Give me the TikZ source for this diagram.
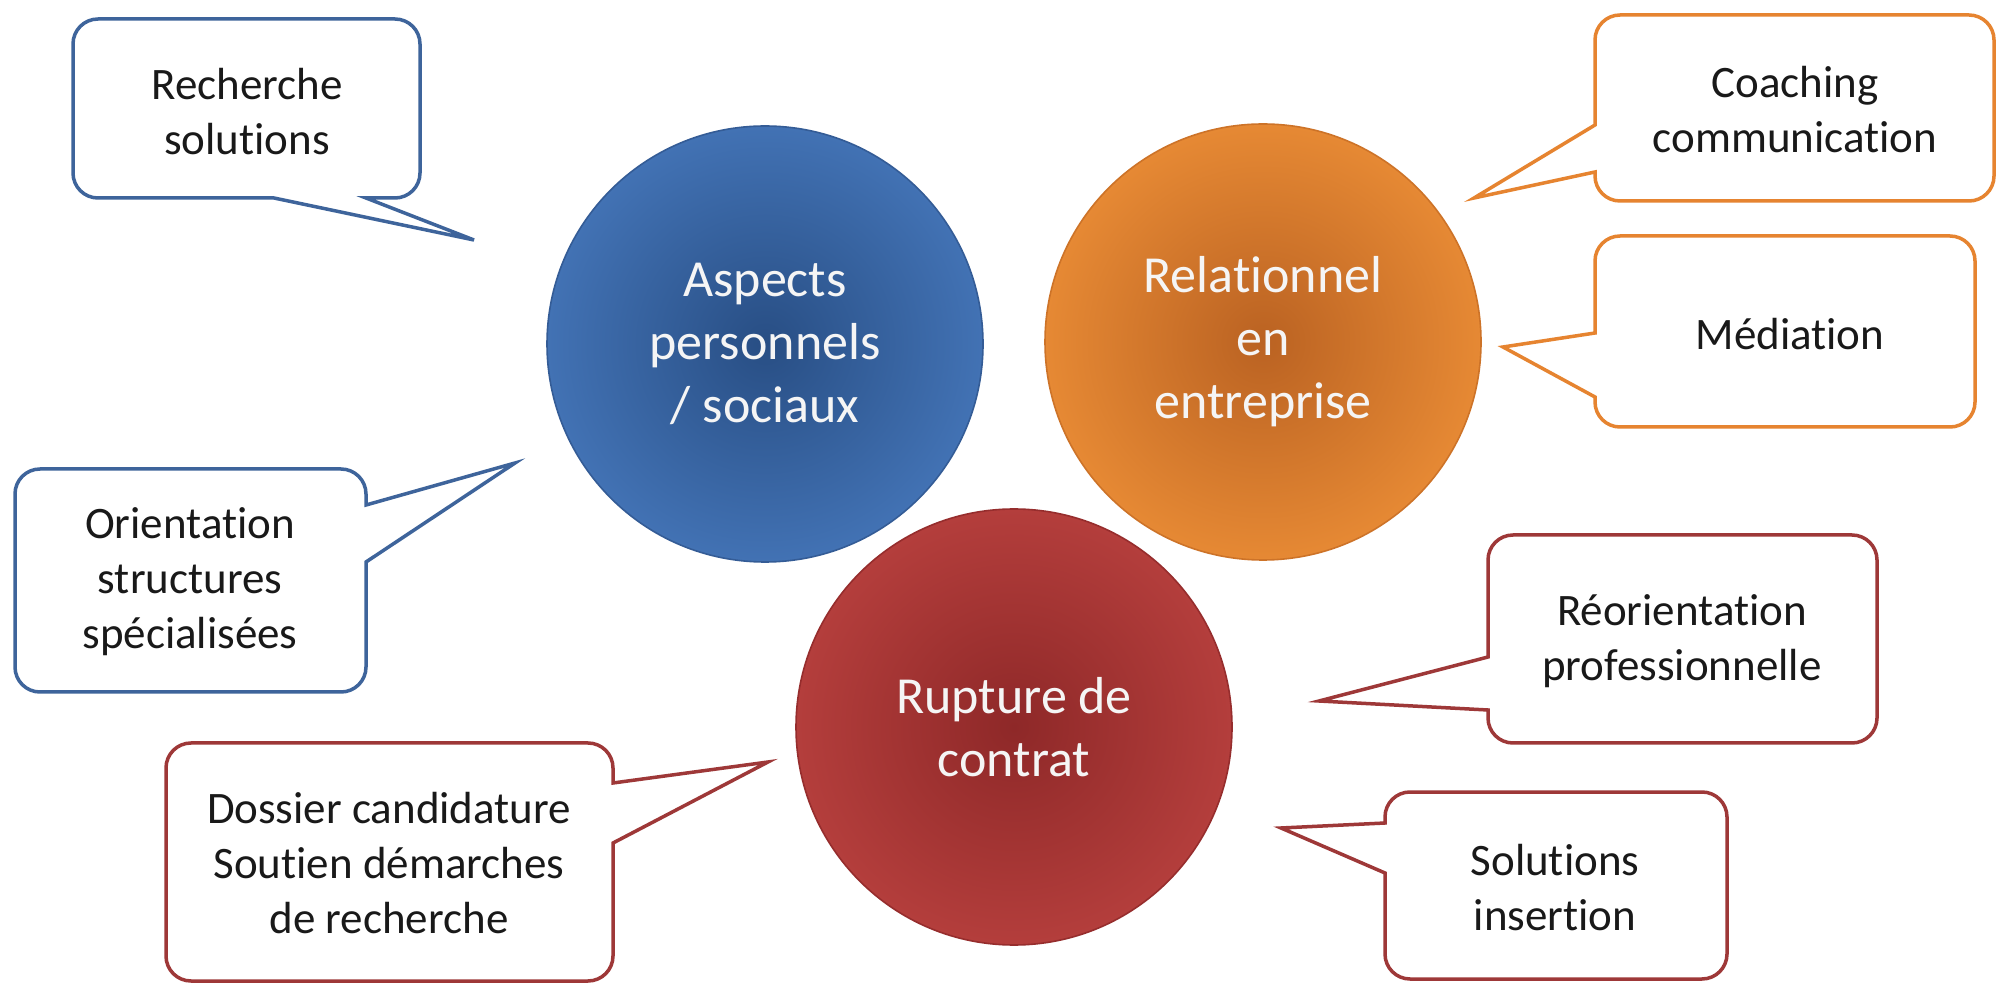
\documentclass[tikz,border=0pt]{standalone}
\usepackage{fontspec}
\setmainfont{Carlito}[Ligatures=NoCommon]
\definecolor{bluebd}{RGB}{62,100,155}
\definecolor{orangebd}{RGB}{230,132,48}
\definecolor{redbd}{RGB}{158,56,56}
\definecolor{blueout}{RGB}{66,114,180}
\definecolor{bluein}{RGB}{40,78,132}
\definecolor{blueline}{RGB}{52,92,150}
\definecolor{orangeout}{RGB}{230,137,52}
\definecolor{orangein}{RGB}{186,98,34}
\definecolor{orangeline}{RGB}{205,115,40}
\definecolor{redout}{RGB}{180,62,60}
\definecolor{redin}{RGB}{142,40,40}
\definecolor{redline}{RGB}{150,45,45}
\definecolor{txt}{RGB}{25,25,25}
\definecolor{ctxt}{RGB}{245,245,245}
\def\crad{25}
% left pointer: style, L,T,R,B, y1,y2, tipx,tipy
\newcommand{\cbLeft}[9]{%
  \draw[#1] ({#2+\crad},{-#3}) -- ({#4-\crad},{-#3})
    arc[start angle=90,end angle=0,radius=\crad]
    -- ({#4},{-#5+\crad})
    arc[start angle=0,end angle=-90,radius=\crad]
    -- ({#2+\crad},{-#5})
    arc[start angle=-90,end angle=-180,radius=\crad]
    -- ({#2},{-#7}) -- ({#8},{-#9}) -- ({#2},{-#6})
    -- ({#2},{-#3-\crad})
    arc[start angle=180,end angle=90,radius=\crad]
    -- cycle;}
% right pointer
\newcommand{\cbRight}[9]{%
  \draw[#1] ({#2+\crad},{-#3}) -- ({#4-\crad},{-#3})
    arc[start angle=90,end angle=0,radius=\crad]
    -- ({#4},{-#6}) -- ({#8},{-#9}) -- ({#4},{-#7})
    -- ({#4},{-#5+\crad})
    arc[start angle=0,end angle=-90,radius=\crad]
    -- ({#2+\crad},{-#5})
    arc[start angle=-90,end angle=-180,radius=\crad]
    -- ({#2},{-#3-\crad})
    arc[start angle=180,end angle=90,radius=\crad]
    -- cycle;}
% bottom pointer: x1 (left), x2 (right)
\newcommand{\cbBottom}[9]{%
  \draw[#1] ({#2+\crad},{-#3}) -- ({#4-\crad},{-#3})
    arc[start angle=90,end angle=0,radius=\crad]
    -- ({#4},{-#5+\crad})
    arc[start angle=0,end angle=-90,radius=\crad]
    -- ({#7},{-#5}) -- ({#8},{-#9}) -- ({#6},{-#5})
    -- ({#2+\crad},{-#5})
    arc[start angle=-90,end angle=-180,radius=\crad]
    -- ({#2},{-#3-\crad})
    arc[start angle=180,end angle=90,radius=\crad]
    -- cycle;}
\begin{document}
\begin{tikzpicture}[x=0.5pt,y=0.5pt,
  cbblue/.style={draw=bluebd,line width=1.75pt,fill=white},
  cborange/.style={draw=orangebd,line width=1.75pt,fill=white},
  cbred/.style={draw=redbd,line width=1.75pt,fill=white},
  ctext/.style={font=\fontsize{22.5}{27.5}\selectfont,align=center,text=txt,inner sep=0pt},
  bubble/.style={circle,minimum size=218pt,inner sep=0pt,line width=0.8pt,shading=radial,
    font=\fontsize{26}{31.5}\selectfont,align=center,text=ctxt}]
\useasboundingbox (0,0) rectangle (1998,-983);
\fill[white] (0,0) rectangle (1998,-983);

% circles
\node[bubble,draw=blueline,inner color=bluein,outer color=blueout] (aspects) at (765,-344) {Aspects\\personnels\\/ sociaux};
\node[bubble,draw=orangeline,inner color=orangein,outer color=orangeout] (relation) at (1263,-342) {Relationnel\\en\\entreprise};
\node[bubble,draw=redline,inner color=redin,outer color=redout] (rupture) at (1014,-727) {Rupture de\\contrat};

% callouts
\cbBottom{cbblue}{73}{19}{420}{198}{274}{366}{474}{240}
\node[ctext] (recherche) at (247,-112) {Recherche\\solutions};

\cbRight{cbblue}{15}{469}{366}{692}{505}{562}{515}{463}
\node[ctext] (orientation) at (190,-582) {Orientation\\structures\\spécialisées};

\cbRight{cbred}{166}{743}{613}{981}{783}{843}{768}{762}
\node[ctext] (dossier) at (389,-863) {Dossier candidature\\Soutien démarches\\de recherche};

\cbLeft{cborange}{1595}{15}{1994}{201}{125}{172}{1474}{198}
\node[ctext] (coaching) at (1795,-110) {Coaching\\communication};

\cbLeft{cborange}{1595}{236}{1975}{427}{333}{397}{1503}{347}
\node[ctext] (mediation) at (1790,-334) {Médiation};

\cbLeft{cbred}{1488}{535}{1877}{743}{657}{710}{1319}{701}
\node[ctext] (reorientation) at (1682,-641) {Réorientation\\professionnelle};

\cbLeft{cbred}{1385}{792}{1727}{979}{823}{873}{1281}{828}
\node[ctext] (solutions) at (1555,-888) {Solutions\\insertion};
\end{tikzpicture}
\end{document}
